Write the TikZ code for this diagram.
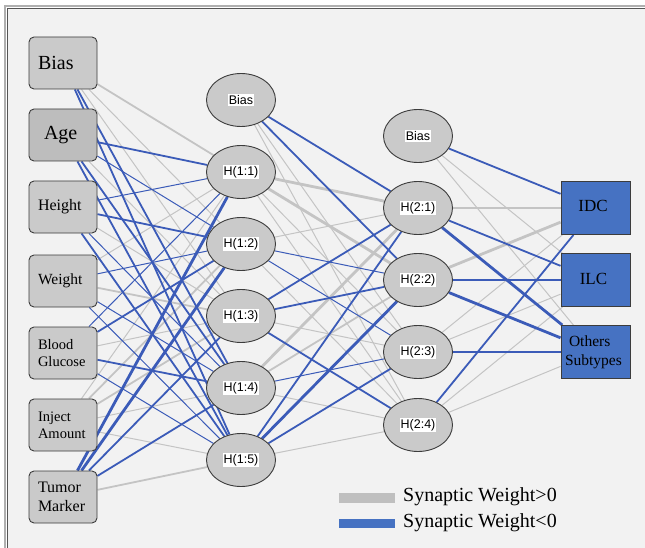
\documentclass[tikz,border=0pt]{standalone}
\usepackage{fontspec}
\setmainfont{Liberation Serif}
\newfontfamily\arialf{Liberation Sans}
\usetikzlibrary{shapes.geometric}
\pgfdeclarelayer{bg}
\pgfdeclarelayer{edges}
\pgfsetlayers{bg,edges,main}
\definecolor{pbg}{HTML}{F2F2F2}
\definecolor{gline}{HTML}{C4C4C4}
\definecolor{bline}{HTML}{3B5BB8}
\definecolor{nodefill}{HTML}{CACACA}
\definecolor{agefill}{HTML}{BDBDBD}
\definecolor{outfill}{HTML}{4672C2}
\definecolor{bord}{HTML}{3C3C3C}
\newcommand{\wlab}[1]{{\setlength{\fboxsep}{1pt}\colorbox{white}{#1}}}
\begin{document}
\begin{tikzpicture}[x=1pt,y=-1pt,
  inbox/.style={draw=bord,line width=0.9pt,fill=nodefill,rounded corners=5pt,
    minimum height=52pt,text width=50pt,inner xsep=9pt,inner ysep=0pt,align=left},
  hid/.style={ellipse,draw=bord,line width=0.9pt,fill=nodefill,minimum width=69pt,
    minimum height=53pt,inner sep=0pt,font=\arialf\fontsize{12.5}{14}\selectfont},
  outbox/.style={draw=bord,line width=0.9pt,fill=outfill,minimum width=69pt,
    minimum height=53pt,inner sep=0pt,font=\fontsize{17}{19}\selectfont},
  g1/.style={gline,line width=1pt},
  g2/.style={gline,line width=1.8pt},
  g3/.style={gline,line width=2.8pt},
  b1/.style={bline,line width=1pt},
  b2/.style={bline,line width=1.8pt},
  b3/.style={bline,line width=2.8pt},
  legtext/.style={anchor=west,inner sep=0pt,font=\fontsize{20}{22}\selectfont}
]
\useasboundingbox (0,0) rectangle (645,548);
\begin{pgfonlayer}{bg}
  \fill[white] (0,0) rectangle (645,548);
  \fill[pbg] (7,8) rectangle (645,548);
  \draw[color={rgb,255:red,176;green,176;blue,176},line width=2pt] (5,548) -- (5,6) -- (645,6);
  \draw[color={rgb,255:red,85;green,85;blue,85},line width=0.8pt] (7.5,548) -- (7.5,8.5) -- (645,8.5);
\end{pgfonlayer}

% input layer
\node[inbox,font=\fontsize{20}{22}\selectfont] (i1) at (63,63) {Bias};
\node[inbox,fill=agefill,font=\fontsize{20}{22}\selectfont] (i2) at (63,135) {\hspace*{6pt}Age};
\node[inbox,font=\fontsize{16}{18}\selectfont] (i3) at (63,207) {Height};
\node[inbox,font=\fontsize{15.5}{18}\selectfont] (i4) at (63,281) {Weight};
\node[inbox,font=\fontsize{14.5}{17}\selectfont] (i5) at (63,353) {Blood\\Glucose};
\node[inbox,font=\fontsize{14.5}{17}\selectfont] (i6) at (63,425) {Inject\\Amount};
\node[inbox,font=\fontsize{16}{19}\selectfont] (i7) at (63,497) {Tumor\\Marker};

% hidden layer 1
\node[hid] (b1) at (241,100) {\wlab{Bias}};
\node[hid] (h11) at (241,172) {\wlab{H(1:1)}};
\node[hid] (h12) at (241,244) {\wlab{H(1:2)}};
\node[hid] (h13) at (241,316) {\wlab{H(1:3)}};
\node[hid] (h14) at (241,388) {\wlab{H(1:4)}};
\node[hid] (h15) at (241,460) {\wlab{H(1:5)}};

% hidden layer 2
\node[hid] (b2) at (418,136) {\wlab{Bias}};
\node[hid] (h21) at (418,208) {\wlab{H(2:1)}};
\node[hid] (h22) at (418,280) {\wlab{H(2:2)}};
\node[hid] (h23) at (418,352) {\wlab{H(2:3)}};
\node[hid] (h24) at (418,425) {\wlab{H(2:4)}};

% output layer
\node[outbox] (o1) at (595.5,208) {\raisebox{5pt}{IDC\hspace*{5pt}}};
\node[outbox] (o2) at (595.5,280) {\raisebox{3pt}{ILC\hspace*{4pt}}};
\node[outbox,text width=61pt,inner xsep=4pt,align=left,font=\fontsize{15.5}{19}\selectfont] (o3) at (595.5,352) {\hspace*{4pt}Others\\Subtypes};

\begin{pgfonlayer}{edges}
  % ---- gray (positive) ----
  \draw[g2] (i1) -- (h11);
  \draw[g1] (i1) -- (h12);
  \draw[g1] (i1) -- (h13);
  \draw[g1] (i2) -- (h13);
  \draw[g1] (i3) -- (h13);
  \draw[g1] (i4) -- (h11);
  \draw[g2] (i4) -- (h13);
  \draw[g1] (i5) -- (h13);
  \draw[g1] (i6) -- (h11);
  \draw[g2] (i6) -- (h12);
  \draw[g2] (i6) -- (h13);
  \draw[g1] (i6) -- (h14);
  \draw[g1] (i6) -- (h15);
  \draw[g2] (i7) -- (h15);
  \draw[g1] (b1) -- (h23);
  \draw[g1] (b1) -- (h24);
  \draw[g3] (h11) -- (h21);
  \draw[g3] (h11) -- (h22);
  \draw[g1] (h11) -- (h23);
  \draw[g1] (h11) -- (h24);
  \draw[g1] (h12) -- (h21);
  \draw[g1] (h12) -- (h24);
  \draw[g1] (h13) -- (h23);
  \draw[g3] (h14) -- (h21);
  \draw[g2] (h14) -- (h22);
  \draw[g1] (h14) -- (h24);
  \draw[g1] (h15) -- (h24);
  \draw[g1] (b2) -- (o2);
  \draw[g1] (b2) -- (o3);
  \draw[g2] (h21) -- (o1);
  \draw[g3] (h22) -- (o1);
  \draw[g1] (h23) -- (o1);
  \draw[g1] (h23) -- (o2);
  \draw[g1] (h24) -- (o2);
  \draw[g1] (h24) -- (o3);
  % ---- blue (negative) ----
  \draw[b2] (i1) -- (h14);
  \draw[b2] (i1) -- (h15);
  \draw[b2] (i2) -- (h11);
  \draw[b1] (i2) -- (h12);
  \draw[b2] (i2) -- (h14);
  \draw[b2] (i2) -- (h15);
  \draw[b1] (i3) -- (h11);
  \draw[b2] (i3) -- (h12);
  \draw[b1] (i3) -- (h14);
  \draw[b2] (i3) -- (h15);
  \draw[b1] (i4) -- (h12);
  \draw[b1] (i4) -- (h14);
  \draw[b1] (i4) -- (h15);
  \draw[b1] (i5) -- (h11);
  \draw[b2] (i5) -- (h12);
  \draw[b2] (i5) -- (h14);
  \draw[b1] (i5) -- (h15);
  \draw[b3] (i7) -- (h11);
  \draw[b3] (i7) -- (h12);
  \draw[b2] (i7) -- (h13);
  \draw[b2] (i7) -- (h14);
  \draw[b2] (b1) -- (h21);
  \draw[b2] (b1) -- (h22);
  \draw[b1] (h12) -- (h22);
  \draw[b1] (h12) -- (h23);
  \draw[b2] (h13) -- (h21);
  \draw[b2] (h13) -- (h22);
  \draw[b2] (h13) -- (h24);
  \draw[b1] (h14) -- (h23);
  \draw[b2] (h15) -- (h21);
  \draw[b3] (h15) -- (h22);
  \draw[b2] (h15) -- (h23);
  \draw[b2] (b2) -- (o1);
  \draw[b2] (h21) -- (o2);
  \draw[b3] (h21) -- (o3);
  \draw[b2] (h22) -- (o2);
  \draw[b3] (h22) -- (o3);
  \draw[b2] (h23) -- (o3);
  \draw[b2] (h24) -- (o1);
\end{pgfonlayer}

% legend
\fill[color={rgb,255:red,191;green,191;blue,191}] (339,493) rectangle (395,503);
\fill[outfill] (339,519) rectangle (395,528);
\node[legtext] (lg1) at (403,497) {Synaptic Weight>0};
\node[legtext] (lg2) at (403,523) {Synaptic Weight<0};
\end{tikzpicture}
\end{document}
